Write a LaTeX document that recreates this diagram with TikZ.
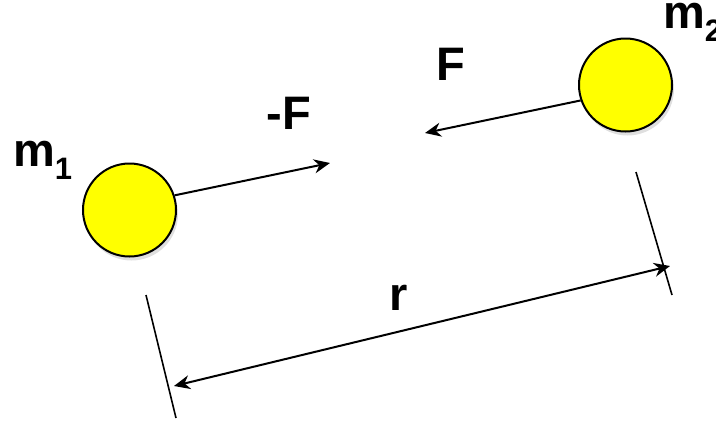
\documentclass[tikz,border=0pt]{standalone}
\usepackage{fontspec}
\setmainfont{Liberation Sans}
\usetikzlibrary{arrows.meta,shadows}
\definecolor{ballyellow}{RGB}{255,255,0}
\tikzset{
  mass/.style={circle, draw=black, line width=2pt, fill=ballyellow, minimum size=93pt, inner sep=0pt,
    drop shadow={opacity=0.25, shadow xshift=2pt, shadow yshift=-4pt}},
  lbl/.style={font=\fontsize{47}{50}\selectfont\bfseries, inner sep=0pt},
  vec/.style={line width=2pt, -{Stealth[length=16pt, width=14pt]}},
  dim/.style={line width=2pt, {Stealth[length=16pt, width=14pt]}-{Stealth[length=16pt, width=14pt]}},
  tick/.style={line width=1.6pt}
}
\begin{document}
\begin{tikzpicture}[x=1pt, y=-1pt]
\path[use as bounding box] (0,0) rectangle (716,421);
\node[mass] (m1) at (129.5,210) {};
\node[mass] (m2) at (625.5,85) {};
\node[lbl, anchor=west] (lm1) at (13,160) {m\textsubscript{\fontsize{31}{33}\selectfont 1}};
\node[lbl, anchor=west] (lm2) at (663,22) {m\textsubscript{\fontsize{31}{33}\selectfont 2}};
\node[lbl] (lnf) at (289,113) {-F};
\node[lbl] (lf) at (451,64) {F};
\node[lbl] (lr) at (399,298) {r};
\coordinate (tipnf) at (330,163);
\coordinate (tipf) at (425,133);
\draw[vec] (m1.18) -- (tipnf);
\draw[vec] (m2.199) -- (tipf);
\coordinate (t1a) at (146,295);
\coordinate (t1b) at (176,418);
\coordinate (t2a) at (636,172);
\coordinate (t2b) at (672,295);
\draw[tick] (t1a) -- (t1b);
\draw[tick] (t2a) -- (t2b);
\coordinate (d1) at (174,386);
\coordinate (d2) at (670,266);
\draw[dim] (d1) -- (d2);
\end{tikzpicture}
\end{document}
